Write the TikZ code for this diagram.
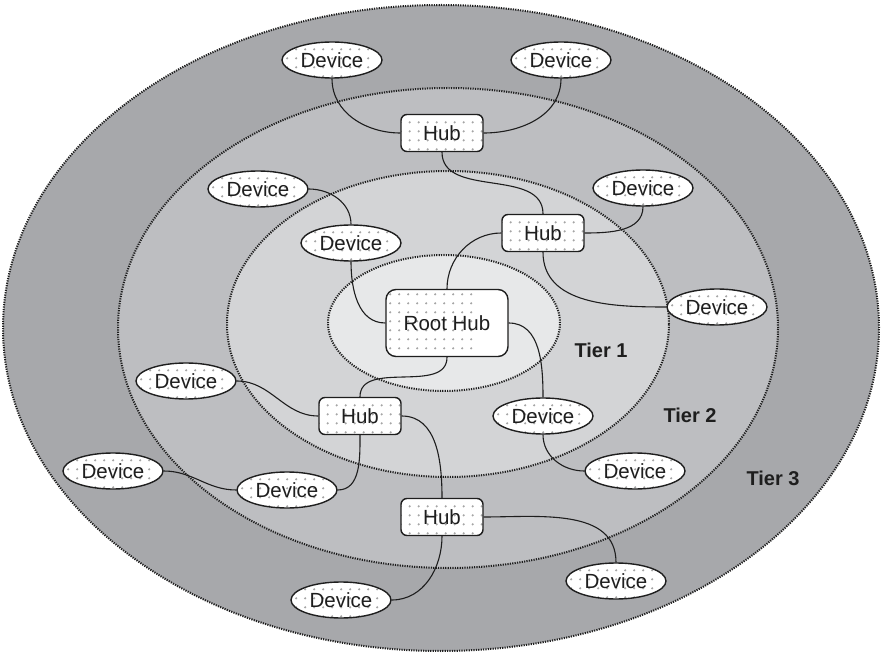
\documentclass[tikz,border=0pt]{standalone}
\usepackage{fontspec}
\setmainfont{Liberation Sans}
\usetikzlibrary{shapes.geometric}
\definecolor{zoneA}{RGB}{167,168,171}
\definecolor{zoneB}{RGB}{189,190,193}
\definecolor{zoneC}{RGB}{211,212,214}
\definecolor{zoneD}{RGB}{231,232,233}
\definecolor{dotgray}{RGB}{165,165,165}
\definecolor{ink}{RGB}{30,30,30}
\tikzset{
  zone/.style={draw=ink, line width=2pt, dash pattern=on 1.2pt off 1.2pt},
  dotfill/.style={fill=white, path picture={
      \begin{scope}[shift={(path picture bounding box.center)}]
        \foreach \i in {-7,...,7}{\foreach \j in {-4,...,4}{
          \fill[dotgray] (\i*9pt+4.5pt,\j*9pt) circle (1.2pt);}}
      \end{scope}}},
  devbox/.style={ellipse, draw=ink, line width=1.4pt, dotfill, minimum width=100pt,
      minimum height=36pt, inner sep=0pt, font=\fontsize{20.5}{24}\selectfont, text=ink},
  hubbox/.style={rectangle, rounded corners=6pt, draw=ink, line width=1.4pt, dotfill,
      minimum width=82pt, minimum height=37pt, inner sep=0pt,
      font=\fontsize{20.5}{24}\selectfont, text=ink},
  rootbox/.style={hubbox, rounded corners=10pt, minimum width=122pt, minimum height=67pt},
  tierlabel/.style={font=\fontsize{20}{24}\selectfont\bfseries, text=ink},
  link/.style={draw=ink, line width=1.1pt}
}
\begin{document}
\begin{tikzpicture}[x=1pt,y=1pt]
\useasboundingbox (0,0) rectangle (881,654);
% tier zones
\path[zone, fill=zoneA] (441,326) ellipse [x radius=438, y radius=323];
\path[zone, fill=zoneB] (448,326) ellipse [x radius=330, y radius=240];
\path[zone, fill=zoneC] (448,330) ellipse [x radius=221, y radius=153];
\path[zone, fill=zoneD] (444,331) ellipse [x radius=116, y radius=68];
% tier labels
\node[tierlabel] (t1) at (601,304) {Tier 1};
\node[tierlabel] (t2) at (690,239) {Tier 2};
\node[tierlabel] (t3) at (773,176) {Tier 3};
% nodes
\node[devbox] (d1) at (332,594) {Device};
\node[devbox] (d2) at (561,594) {Device};
\node[hubbox] (h1) at (442,521) {Hub};
\node[devbox] (dul) at (258,465) {Device};
\node[devbox] (dr) at (643,466) {Device};
\node[hubbox] (h2) at (543,421) {Hub};
\node[devbox] (d3) at (351,411) {Device};
\node[devbox] (dfr) at (717,347) {Device};
\node[rootbox] (root) at (447,331) {Root Hub};
\node[devbox] (dl) at (186,273) {Device};
\node[hubbox] (h3) at (360,238) {Hub};
\node[devbox] (dm) at (543,238) {Device};
\node[devbox] (dll) at (113,183) {Device};
\node[devbox] (dlm) at (287,164) {Device};
\node[devbox] (dmr) at (635,183) {Device};
\node[hubbox] (h4) at (442,137) {Hub};
\node[devbox] (dbr) at (616,73) {Device};
\node[devbox] (db) at (341,54) {Device};
% connectors
\path[link] (d1.south) to[out=-90,in=180] (h1.west);
\path[link] (d2.south) to[out=-90,in=0] (h1.east);
\path[link] (h1.south) to[out=-90,in=90] (h2.north);
\path[link] (h2.west) to[out=180,in=90] (root.north);
\path[link] (h2.east) to[out=0,in=-90] (dr.south);
\path[link] (h2.south) to[out=-90,in=180] (dfr.west);
\path[link] (dul.east) to[out=0,in=90] (d3.north);
\path[link] (d3.south) to[out=-90,in=180] (root.west);
\path[link] (root.east) to[out=0,in=90] (dm.north);
\path[link] (root.south) to[out=-90,in=90] (h3.north);
\path[link] (dl.east) to[out=0,in=180] (h3.west);
\path[link] (h3.south) to[out=-90,in=0] (dlm.east);
\path[link] (dll.east) to[out=0,in=180] (dlm.west);
\path[link] (h3.east) to[out=0,in=90] (h4.north);
\path[link] (h4.east) to[out=0,in=90] (dbr.north);
\path[link] (h4.south) to[out=-90,in=0] (db.east);
\path[link] (dm.south) to[out=-90,in=180] (dmr.west);
\end{tikzpicture}
\end{document}
